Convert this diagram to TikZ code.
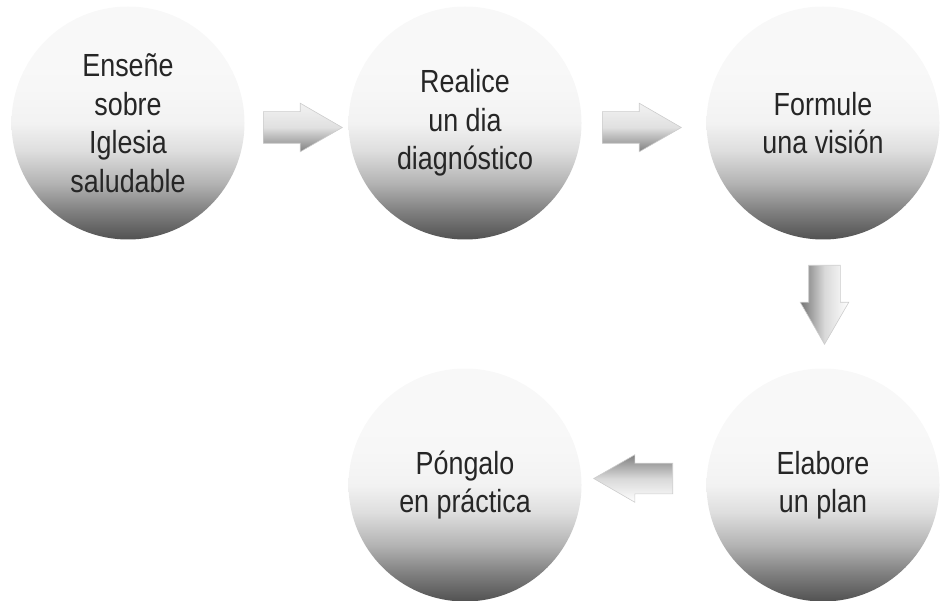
\documentclass[tikz,border=0pt]{standalone}
\usepackage{fontspec}
\setmainfont[FakeStretch=0.84]{Liberation Sans}
\usetikzlibrary{shapes.arrows}
\pgfdeclareverticalshading{ballgrey}{100bp}{color(0bp)=(black!68); color(25bp)=(black!68); color(31bp)=(black!50); color(37bp)=(black!30); color(44bp)=(black!13); color(50bp)=(black!5); color(58bp)=(black!3); color(100bp)=(black!2)}
\tikzset{
	ball/.style={circle,minimum size=233pt,inner sep=0pt,shading=ballgrey,align=center,text=black!85,font=\fontsize{32}{38.5}\selectfont},
	blockarrow/.style={single arrow,draw=black!20,line width=0.6pt,minimum height=79pt,single arrow head extend=8.5pt,single arrow tip angle=60,anchor=tail},
	rarrow/.style={blockarrow,inner xsep=0pt,inner ysep=15.5pt,top color=white!95!black,bottom color=black!50,middle color=white!88!black},
	darrow/.style={blockarrow,inner xsep=15.5pt,inner ysep=0pt,shape border rotate=270,left color=black!55,right color=white,middle color=white!85!black},
	larrow/.style={blockarrow,inner xsep=0pt,inner ysep=15pt,shape border rotate=180,top color=black!50,bottom color=white,middle color=white!85!black}
}

\begin{document}
\begin{tikzpicture}[x=1pt,y=-1pt]
	\useasboundingbox (0,0) rectangle (941,601);
	\node [ball] (ensene) at (128,123) {Enseñe\\sobre\\Iglesia\\saludable};
	\node [ball] (realice) at (465,123) {Realice\\un dia\\diagnóstico};
	\node [ball] (formule) at (823,123) {Formule\\una visión};
	\node [ball] (elabore) at (823,485) {Elabore\\un plan};
	\node [ball] (pongalo) at (465,485) {Póngalo\\en práctica};

	\node [rarrow] (a1) at (263,127.5) {};
	\node [rarrow] (a2) at (602,127.5) {};
	\node [darrow] (a3) at (824.5,265) {};
	\node [larrow] (a4) at (673,478.5) {};
\end{tikzpicture}
\end{document}
